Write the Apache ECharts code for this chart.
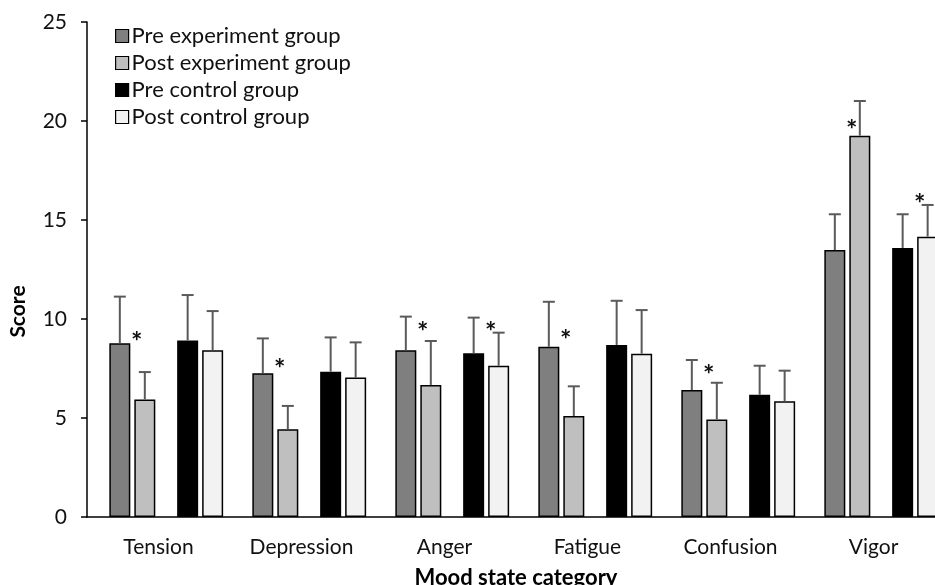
<!DOCTYPE html>
<html>
<head>
<meta charset="utf-8">
<script src="https://cdn.jsdelivr.net/npm/echarts@6/dist/echarts.min.js"></script>
<style>
  html, body { margin: 0; padding: 0; background: #fff; }
  #chart { width: 935px; height: 585px; }
</style>
</head>
<body>
<div id="chart"></div>
<script>
// mood scores (mean + upper SD)
const categories = ['Tension', 'Depression', 'Anger', 'Fatigue', 'Confusion', 'Vigor'];
const seriesNames = ['Pre experiment group', 'Post experiment group', 'Pre control group', 'Post control group'];

const preExp = [8.77, 7.26, 8.42, 8.60, 6.41, 13.48];
const preExpSd = [2.36, 1.76, 1.70, 2.27, 1.52, 1.81];
const postExp = [5.94, 4.43, 6.67, 5.10, 4.93, 19.26];
const postExpSd = [1.38, 1.18, 2.22, 1.50, 1.85, 1.75];
const preCtrl = [8.92, 7.34, 8.27, 8.69, 6.18, 13.59];
const preCtrlSd = [2.29, 1.73, 1.80, 2.23, 1.46, 1.70];
const postCtrl = [8.42, 7.04, 7.64, 8.25, 5.84, 14.16];
const postCtrlSd = [1.98, 1.78, 1.67, 2.20, 1.55, 1.60];

// significance marks (score height of the asterisk)
const expStars = [9.19, 7.83, 9.70, 9.29, 7.53, 19.90];
const ctrlStars = [null, null, 9.70, null, null, 16.16];

const yTicks = [0, 5, 10, 15, 20, 25];

// bar slots: spacer, 2 exp bars, spacer, 2 control bars
const slotWidths = [13, 21, 21, 15, 21, 21];
const gapRatio = 0.19;
const colors = ['#7f7f7f', '#bfbfbf', '#000000', '#f2f2f2'];

// same offsets ECharts uses for the bars, so error bars sit on top of them
function slotOffsets() {
  let sum = 0;
  slotWidths.forEach(w => { sum += w * (1 + gapRatio); });
  sum -= slotWidths[slotWidths.length - 1] * gapRatio;
  let off = -sum / 2;
  return slotWidths.map(w => {
    const o = { left: off, width: w };
    off += w * (1 + gapRatio);
    return o;
  });
}
const offsets = slotOffsets();
const seriesSlot = [1, 2, 4, 5];

const means = [preExp, postExp, preCtrl, postCtrl];
const sds = [preExpSd, postExpSd, preCtrlSd, postCtrlSd];

const errData = [];
means.forEach((arr, s) => {
  arr.forEach((v, i) => errData.push([i, s, v, sds[s][i]]));
});
const starData = [];
expStars.forEach((v, i) => { if (v != null) starData.push([i, 1, v]); });
ctrlStars.forEach((v, i) => { if (v != null) starData.push([i, 3, v]); });

const font = 'Lato';
const chart = echarts.init(document.getElementById('chart'));

function spacer(w) {
  return { type: 'bar', name: '', data: [], barWidth: w, silent: true, barGap: gapRatio * 100 + '%' };
}

const barSeries = seriesNames.map((name, s) => ({
  type: 'bar',
  name: name,
  data: means[s],
  barWidth: slotWidths[seriesSlot[s]],
  barGap: gapRatio * 100 + '%',
  itemStyle: { color: colors[s], borderColor: '#000', borderWidth: 1.5 },
  emphasis: { disabled: true }
}));

const option = {
  animation: false,
  backgroundColor: '#fff',
  grid: { left: 87, right: -10, top: 22, bottom: 68, outerBoundsMode: 'none', containLabel: false },
  legend: {
    data: seriesNames,
    orient: 'vertical',
    left: 110,
    top: 20,
    itemWidth: 13,
    itemHeight: 13,
    itemGap: 5,
    icon: 'rect',
    itemStyle: { borderColor: '#000', borderWidth: 1.2 },
    textStyle: { fontFamily: font, fontSize: 22, color: '#111', padding: [0, 0, 0, -2] }
  },
  xAxis: {
    type: 'category',
    data: categories,
    name: 'Mood state category',
    nameLocation: 'middle',
    nameGap: 50,
    nameTextStyle: { fontFamily: font, fontSize: 22, fontWeight: 'bold', color: '#000' },
    axisLine: { lineStyle: { color: '#000', width: 1.5 } },
    axisTick: { show: false },
    axisLabel: { fontFamily: font, fontSize: 21, color: '#111', margin: 20 }
  },
  yAxis: {
    type: 'value',
    min: yTicks[0],
    max: yTicks[yTicks.length - 1],
    interval: 5,
    name: 'Score',
    nameLocation: 'middle',
    nameGap: 58,
    nameTextStyle: { fontFamily: font, fontSize: 21, fontWeight: 'bold', color: '#000', padding: [0, 84, 0, 0] },
    axisLine: { show: true, lineStyle: { color: '#000', width: 1.5 } },
    axisTick: { show: true, length: 6, lineStyle: { color: '#000', width: 1.5 } },
    axisLabel: { fontFamily: font, fontSize: 21, color: '#111', margin: 20 },
    splitLine: { show: false }
  },
  series: [
    spacer(slotWidths[0]),
    barSeries[0],
    barSeries[1],
    spacer(slotWidths[3]),
    barSeries[2],
    barSeries[3],
    {
      type: 'custom',
      name: 'err',
      data: errData,
      encode: { x: 0, y: 2 },
      z: 5,
      silent: true,
      renderItem: function (params, api) {
        const cat = api.value(0);
        const o = offsets[seriesSlot[api.value(1)]];
        const top = api.coord([cat, api.value(2)]);
        const up = api.coord([cat, api.value(2) + api.value(3)]);
        const x = top[0] + o.left + o.width / 2;
        const style = { stroke: '#5a5a5a', lineWidth: 2 };
        return {
          type: 'group',
          children: [
            { type: 'line', shape: { x1: x, y1: top[1], x2: x, y2: up[1] }, style: style },
            { type: 'line', shape: { x1: x - 6, y1: up[1], x2: x + 6, y2: up[1] }, style: style }
          ]
        };
      }
    },
    {
      type: 'custom',
      name: 'stars',
      data: starData,
      encode: { x: 0, y: 2 },
      z: 6,
      silent: true,
      renderItem: function (params, api) {
        const cat = api.value(0);
        const o = offsets[seriesSlot[api.value(1)]];
        const p = api.coord([cat, api.value(2)]);
        return {
          type: 'text',
          style: {
            x: p[0] + o.left + o.width / 2 - 8,
            y: p[1] + 7,
            text: '*',
            fill: '#111',
            font: 'bold 27px ' + font,
            align: 'center',
            verticalAlign: 'middle'
          }
        };
      }
    }
  ]
};

chart.setOption(option);
window.addEventListener('resize', () => chart.resize());
</script>
</body>
</html>
